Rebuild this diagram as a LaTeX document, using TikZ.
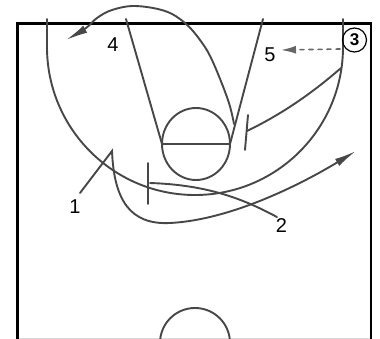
\documentclass[tikz,border=0pt]{standalone}
\usepackage{fontspec}
\setmainfont{Liberation Sans}
\usetikzlibrary{arrows.meta}
\tikzset{court/.style={line width=1.9pt,draw=black!72,line cap=round}}
\tikzset{cut/.style={court,>={Latex[length=22pt,width=8pt]},->}}
\tikzset{pass/.style={court,line width=1.6pt,draw=black!60,dash pattern={on 4pt off 5pt},>={Latex[length=15pt,width=8pt]},->}}
\tikzset{num/.style={inner sep=0pt,font=\fontsize{20}{20}\selectfont}}
\begin{document}
\begin{tikzpicture}[x=1pt,y=-1pt]
\useasboundingbox(0,0)rectangle(380,339);
\draw[black!15](17.5,338)--(371,338);
\draw[line width=2.8pt](17.5,340)|-(371,23.5)--(371,340);
% court
\draw[court](47,19)--(47,47)arc[start angle=180,end angle=0,radius=148]--(343,19);
\draw[court](126,19)--(162,144);\draw[court](263,19)--(230,144);
\draw[court](196,144)ellipse[x radius=34,y radius=36];\draw[court](162,144)--(230,144);
\draw[court](195,343)circle[radius=35];
% players
\node[num](p1)at(75,207){1};\node[num](p2)at(281.5,225.5){2};\node[num](p4)at(113,44.5){4};\node[num](p5)at(270,54.5){5};
\node[draw,circle,line width=1.2pt,minimum size=24pt,inner sep=0pt,font=\fontsize{17}{17}\selectfont\bfseries](p3)at(354.5,40){3};
\coordinate(s1)at(80,193);\coordinate(e1)at(356,151);\coordinate(s2)at(277,217);\coordinate(b2)at(150,183);
\coordinate(s3)at(341,68);\coordinate(b3)at(247,131);\coordinate(s4)at(234,124);\coordinate(e4)at(66,40);
% paths
\draw[cut](s1)--(112,151)..controls(114,200)and(130,225)..(170,223)..controls(230,220)and(300,185)..(e1);
\draw[court](s2)..controls(245,200)and(210,185)..(b2);\draw[court](148,163)--(148,204);
\draw[court](s3)..controls(310,95)and(280,115)..(b3);\draw[court](248,115)--(245,150);
\draw[cut]plot[smooth,tension=.6]coordinates{(s4)(228,100)(212,60)(200,40)(185,23)(165,11)(135,6)(112,10)(97,18)(86,28)(e4)};
\draw[pass](340,49)--(281,50);
\end{tikzpicture}
\end{document}
